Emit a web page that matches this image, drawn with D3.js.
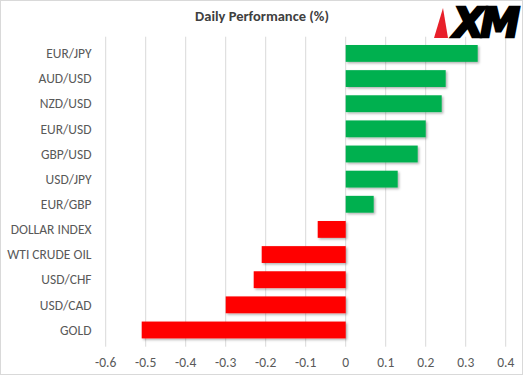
<!DOCTYPE html>
<html>
<head>
<meta charset="utf-8">
<script src="https://cdn.jsdelivr.net/npm/d3@7"></script>
<style>
  html, body { margin: 0; padding: 0; background: #fff; }
  svg { display: block; }
</style>
</head>
<body>
<div id="chart"></div>
<script>
// Daily Performance (%) - barras horizontales, verde = sube, rojo = baja
const categories = ["EUR/JPY", "AUD/USD", "NZD/USD", "EUR/USD", "GBP/USD", "USD/JPY",
  "EUR/GBP", "DOLLAR INDEX", "WTI CRUDE OIL", "USD/CHF", "USD/CAD", "GOLD"];
const values = [0.33, 0.25, 0.24, 0.20, 0.18, 0.13, 0.07, -0.07, -0.21, -0.23, -0.30, -0.51];
const xTicks = [-0.6, -0.5, -0.4, -0.3, -0.2, -0.1, 0, 0.1, 0.2, 0.3, 0.4];
const title = "Daily Performance (%)";

const width = 523, height = 375;
const FONT = "Calibri, Carlito, 'Open Sans', sans-serif";

const svg = d3.select('#chart').append('svg')
  .attr('width', width).attr('height', height);

// borde gris claro
svg.append('rect')
  .attr('x', 0.5).attr('y', 0.5).attr('width', width - 1).attr('height', height - 1)
  .attr('fill', '#fff').attr('stroke', '#d9d9d9').attr('stroke-width', 1);

const x = d3.scaleLinear().domain([-0.6, 0.4]).range([105.7, 505.7]);
const y = d3.scaleBand().domain(categories).range([36.7, 346.7]).padding(0.33);

// rejilla vertical
svg.append('g').selectAll('line').data(xTicks).join('line')
  .attr('x1', d => x(d)).attr('x2', d => x(d))
  .attr('y1', 36.7).attr('y2', 346.7)
  .attr('stroke', '#d9d9d9').attr('stroke-width', 1);

// sombra de barras
const defs = svg.append('defs');
const f = defs.append('filter').attr('id', 'sh').attr('x', '-10%').attr('y', '-20%').attr('width', '130%').attr('height', '160%');
f.append('feDropShadow').attr('dx', 1.5).attr('dy', 1.5).attr('stdDeviation', 1)
  .attr('flood-color', '#000').attr('flood-opacity', 0.3);

svg.append('g').selectAll('rect').data(categories).join('rect')
  .attr('x', (d, i) => x(Math.min(0, values[i])))
  .attr('y', d => y(d))
  .attr('width', (d, i) => Math.abs(x(values[i]) - x(0)))
  .attr('height', y.bandwidth())
  .attr('fill', (d, i) => values[i] >= 0 ? '#00b050' : '#ff0000')
  .attr('filter', 'url(#sh)');

// etiquetas de categoria
svg.append('g').selectAll('text').data(categories).join('text')
  .attr('x', 91.5).attr('y', d => y(d) + y.bandwidth() / 2).attr('dy', '0.35em')
  .attr('text-anchor', 'end')
  .attr('font-family', FONT).attr('font-size', '13.5px').attr('fill', '#595959')
  .text(d => d);

// eje x (ticks), con guion normal como en Excel
svg.append('g').selectAll('text').data(xTicks).join('text')
  .attr('x', d => x(d)).attr('y', 362).attr('dy', '0.35em')
  .attr('text-anchor', 'middle')
  .attr('font-family', FONT).attr('font-size', '13.5px').attr('fill', '#595959')
  .text(d => String(d));

// titulo
svg.append('text')
  .attr('x', 262).attr('y', 16).attr('dy', '0.35em').attr('text-anchor', 'middle')
  .attr('font-family', FONT).attr('font-size', '14.5px').attr('font-weight', '700').attr('fill', '#404040')
  .text(title);

// logo XM
const logo = svg.append('g');
logo.append('polygon')
  .attr('points', '443,8 448,38 434,38')
  .attr('fill', '#e8202a');
logo.append('text')
  .attr('x', 516).attr('y', 37).attr('text-anchor', 'end')
  .attr('font-family', "'DejaVu Sans', sans-serif").attr('font-size', '40px')
  .attr('font-weight', 'bold').attr('font-style', 'italic').attr('fill', '#000')
  .attr('stroke', '#000').attr('stroke-width', 2.5)
  .attr('letter-spacing', '-4px')
  .text('XM');
</script>
</body>
</html>
